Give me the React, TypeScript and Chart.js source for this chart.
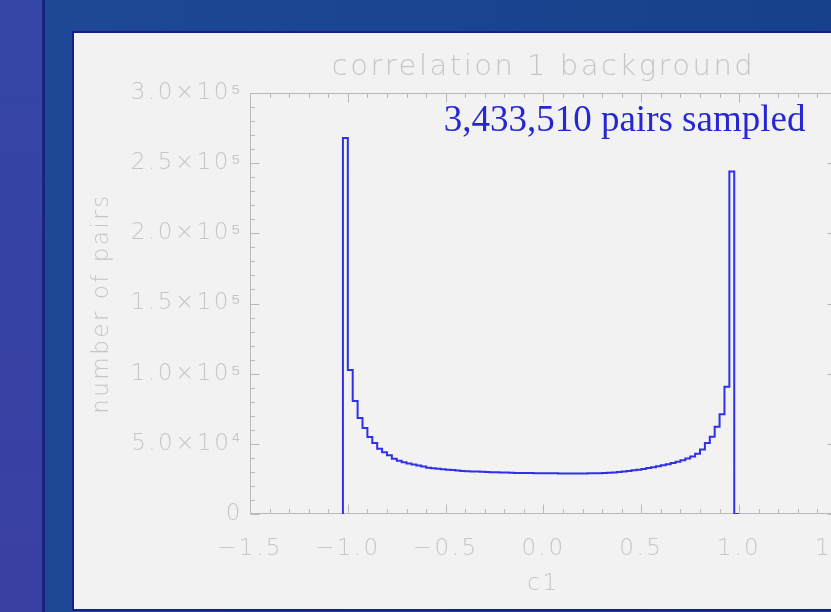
import React, { useEffect, useRef } from 'react';
import { Chart, registerables } from 'chart.js';

Chart.register(...registerables);

// ---- data ----
const BIN_START = -1.025;
const BIN_WIDTH = 0.025;
const pairCounts = [
  18500, 268000, 102600, 80500, 68400, 61300, 54900, 50600, 46500, 44000,
  41800, 39400, 38000, 36900, 36000, 35200, 34500, 33800, 33000, 32600,
  32200, 31900, 31600, 31300, 31000, 30700, 30500, 30300, 30200, 30100,
  29900, 29800, 29700, 29600, 29500, 29400, 29300, 29300, 29200, 29200,
  29100, 29100, 29000, 29000, 29000, 28900, 28900, 28900, 28900, 28900,
  28900, 29000, 29000, 29100, 29200, 29400, 29600, 29900, 30300, 30700,
  31100, 31600, 32100, 32700, 33300, 34000, 34700, 35500, 36400, 37300,
  38300, 39500, 41000, 43000, 46000, 50600, 55000, 62200, 71000, 90700,
  244000,
];

const X_MIN = -1.5;
const X_MAX = 1.5;
const X_MAJOR = 0.5;
const X_MINOR = 0.1;
const Y_MIN = 0;
const Y_MAX = 300000;
const Y_MAJOR = 50000;
const Y_MINOR = 10000;

const TITLE = 'correlation 1 background';
const X_LABEL = 'c1';
const Y_LABEL = 'number of pairs';
const NOTE = '3,433,510 pairs sampled';
const NOTE_AT = { x: -0.51, y: 273000 };

// ---- style ----
const GRAY = '#c6c6c6';
const FRAME = '#b9b9b9';
const LINE_BLUE = '#3030e8';
const NOTE_BLUE = '#2626d2';
const FONT = '"DejaVu Sans", "Liberation Sans", sans-serif';
const SUP: Record<string, string> = { '0': '⁰', '1': '¹', '2': '²', '3': '³', '4': '⁴', '5': '⁵', '6': '⁶', '7': '⁷', '8': '⁸', '9': '⁹', '-': '⁻' };

function fmtX(v: number) {
  const r = Math.round(v * 10) / 10;
  if (r === 0) return '0.0';
  return (r < 0 ? '\u2212' : '') + Math.abs(r).toFixed(1);
}
function fmtY(v: number) {
  if (v === 0) return '0';
  const e = Math.floor(Math.log10(v) + 1e-9);
  const m = v / Math.pow(10, e);
  return `${m.toFixed(1)}×10${String(e).split('').map((c) => SUP[c]).join('')}`;
}

const spacingPlugin = {
  id: 'spacing',
  beforeUpdate(chart: any) {
    chart.ctx.letterSpacing = '2.5px';
  },
  beforeDraw(chart: any) {
    chart.ctx.letterSpacing = '2.5px';
  },
};

const framePlugin = {
  id: 'frameTicks',
  beforeDatasetsDraw(chart: any) {
    const { ctx, chartArea: a, scales } = chart;
    const xs = scales.x;
    const ys = scales.y;
    const L = Math.round(a.left) + 0.5;
    const R = Math.round(a.right) - 0.5;
    const T = Math.round(a.top) + 0.5;
    const B = Math.round(a.bottom) - 0.5;
    ctx.save();
    ctx.strokeStyle = FRAME;
    ctx.lineWidth = 1;
    ctx.beginPath();
    ctx.moveTo(L, T); ctx.lineTo(R, T); ctx.lineTo(R, B); ctx.lineTo(L, B); ctx.closePath();
    const nx = Math.round((X_MAX - X_MIN) / X_MINOR);
    const perX = Math.round(X_MAJOR / X_MINOR);
    for (let i = 0; i <= nx; i++) {
      const px = Math.round(xs.getPixelForValue(X_MIN + i * X_MINOR)) + 0.5;
      const len = i % perX === 0 ? 9 : 4.5;
      ctx.moveTo(px, B); ctx.lineTo(px, B - len);
      ctx.moveTo(px, T); ctx.lineTo(px, T + len);
    }
    const ny = Math.round((Y_MAX - Y_MIN) / Y_MINOR);
    const perY = Math.round(Y_MAJOR / Y_MINOR);
    for (let j = 0; j <= ny; j++) {
      const py = Math.round(ys.getPixelForValue(Y_MIN + j * Y_MINOR)) + 0.5;
      const len = j % perY === 0 ? 9 : 4.5;
      ctx.moveTo(L, py); ctx.lineTo(L + len, py);
      ctx.moveTo(R, py); ctx.lineTo(R - len, py);
    }
    ctx.stroke();
    ctx.restore();
  },
};

const notePlugin = {
  id: 'note',
  afterDraw(chart: any) {
    const { ctx, scales } = chart;
    ctx.save();
    ctx.letterSpacing = '0px';
    ctx.font = '37px "Liberation Serif", "Times New Roman", serif';
    ctx.fillStyle = NOTE_BLUE;
    ctx.textAlign = 'left';
    ctx.textBaseline = 'alphabetic';
    ctx.fillText(NOTE, scales.x.getPixelForValue(NOTE_AT.x), scales.y.getPixelForValue(NOTE_AT.y));
    ctx.restore();
  },
};

export default function App() {
  const ref = useRef<HTMLCanvasElement>(null);
  useEffect(() => {
    document.body.style.margin = '0';
    document.body.style.overflow = 'hidden';
    const points = [
      { x: BIN_START, y: 0 },
      ...pairCounts.map((c, i) => ({ x: BIN_START + i * BIN_WIDTH, y: c })),
      { x: BIN_START + pairCounts.length * BIN_WIDTH, y: 0 },
    ];
    const tickFont = { family: FONT, size: 23, weight: '200' as any };
    const chart = new Chart(ref.current!, {
      type: 'line',
      data: {
        datasets: [
          {
            data: points,
            stepped: 'after',
            borderColor: LINE_BLUE,
            borderWidth: 2,
            pointRadius: 0,
            fill: false,
          },
        ],
      },
      options: {
        responsive: false,
        animation: false,
        devicePixelRatio: 1,
        layout: { padding: { left: 0, right: 40, top: 0, bottom: 0 } },
        plugins: {
          legend: { display: false },
          tooltip: { enabled: false },
          title: {
            display: true,
            fullSize: false,
            text: TITLE,
            color: GRAY,
            font: { family: FONT, size: 29, weight: '200' as any },
            padding: { top: 15.6, bottom: 8.6 },
          },
        },
        scales: {
          x: {
            type: 'linear',
            min: X_MIN,
            max: X_MAX,
            afterFit: (s: any) => { s.height = 95; },
            grid: { display: false, drawTicks: false },
            border: { display: false },
            ticks: {
              stepSize: X_MAJOR,
              padding: 21,
              color: GRAY,
              font: tickFont,
              maxRotation: 0,
              autoSkip: false,
              callback: (v: any) => fmtX(Number(v)),
            },
            title: { display: true, text: X_LABEL, color: GRAY, font: tickFont, padding: { top: 0, bottom: 11 } },
          },
          y: {
            type: 'linear',
            min: Y_MIN,
            max: Y_MAX,
            afterFit: (s: any) => { s.width = 175; },
            grid: { display: false, drawTicks: false },
            border: { display: false },
            ticks: {
              stepSize: Y_MAJOR,
              padding: 7,
              color: GRAY,
              font: tickFont,
              autoSkip: false,
              callback: (v: any) => fmtY(Number(v)),
            },
            title: { display: true, text: Y_LABEL, color: GRAY, font: tickFont, padding: { top: 13, bottom: 0 } },
          },
        },
      },
      plugins: [spacingPlugin, framePlugin, notePlugin],
    } as any);
    return () => chart.destroy();
  }, []);

  return (
    <div style={{ position: 'fixed', inset: 0, overflow: 'hidden', background: 'linear-gradient(180deg, #3446a6 0%, #3a40a2 100%)' }}>
      <div style={{ position: 'absolute', left: 42, top: 0, right: 0, bottom: 0, background: 'linear-gradient(90deg, #1e4896 0%, #16418a 100%)', borderLeft: '3px solid #17237f' }} />
      <div style={{ position: 'absolute', left: 72, top: 31, width: 820, height: 576, background: '#f2f2f2', border: '2px solid #141f8a' }} />
      <canvas ref={ref} width={805} height={575} style={{ position: 'absolute', left: 75, top: 34, width: 805, height: 575 }} />
    </div>
  );
}
